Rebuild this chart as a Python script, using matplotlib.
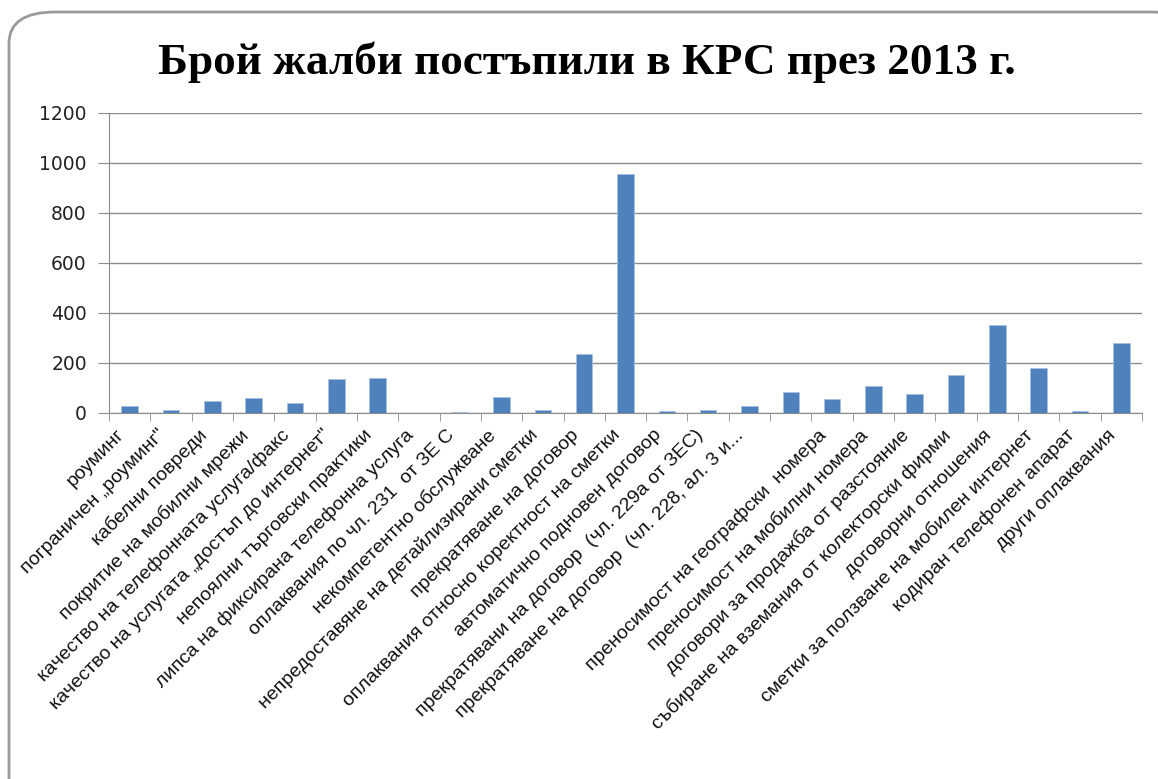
import matplotlib.pyplot as plt
import matplotlib.transforms as mtransforms
from matplotlib.patches import FancyBboxPatch
import numpy as np

categories = [
    'роуминг',
    'пограничен „роуминг"',
    'кабелни повреди',
    'покритие на мобилни мрежи',
    'качество на телефонната услуга/факс',
    'качество на услугата „достъп до интернет"',
    'непоялни търговски практики',
    'липса на фиксирана телефонна услуга',
    'оплаквания по чл. 231  от ЗЕ С',
    'некомпетентно обслужване',
    'непредоставяне на детайлизирани сметки',
    'прекратяване на договор',
    'оплаквания относно коректност на сметки',
    'автоматично подновен договор',
    'прекратявани на договор  (чл. 229а от ЗЕС)',
    'прекратяване на договор  (чл. 228, ал. 3 и...',
    '',
    'преносимост на географски  номера',
    'преносимост на мобилни номера',
    'договори за продажба от разстояние',
    'събиране на вземания от колекторски фирми',
    'договорни отношения',
    'сметки за ползване на мобилен интернет',
    'кодиран телефонен апарат',
    'други оплаквания',
]
complaints = [30, 11, 50, 61, 42, 135, 139, 0, 5, 65, 11, 238, 955,
              8, 13, 27, 85, 56, 109, 75, 152, 351, 181, 8, 279]
y_ticks = [0, 200, 400, 600, 800, 1000, 1200]

W, H = 1158, 779
fig = plt.figure(figsize=(W / 100, H / 100), dpi=100)

# rounded frame around the chart
frame = FancyBboxPatch((9 / W, -40 / H), (W + 30) / W, (H - 12 + 40) / H,
                       boxstyle='round,pad=0,rounding_size=0.04',
                       transform=fig.transFigure, facecolor='white',
                       edgecolor='#9a9a9a', linewidth=2, zorder=-5)
fig.patches.append(frame)

ax = fig.add_axes([109 / W, 1 - 413 / H, (1142 - 109) / W, (413 - 113) / H])
ax.set_zorder(2)
ax.set_facecolor('none')

x = np.arange(len(categories))
ax.bar(x, complaints, width=0.4, color='#4f81bd', edgecolor='#a9c1e0',
       linewidth=0.6, zorder=3)

ax.set_xlim(-0.5, len(categories) - 0.5)
ax.set_ylim(0, 1200)
ax.set_yticks(y_ticks)
ax.set_yticklabels([str(v) for v in y_ticks], fontsize=13.5, color='#222222',
                   family='DejaVu Sans')
ax.yaxis.grid(True, color='#8c8c8c', linewidth=1, zorder=0)
ax.tick_params(axis='y', length=8, color='#8c8c8c', pad=8)

ax.set_xticks(x)
ax.set_xticklabels(categories, rotation=45, ha='right', va='center',
                   rotation_mode='anchor', fontsize=14,
                   family='Liberation Sans', color='#111111')
ax.tick_params(axis='x', length=0, pad=14)
shift = mtransforms.ScaledTranslation(-8 / 100, 0, fig.dpi_scale_trans)
for lbl in ax.get_xticklabels():
    lbl.set_transform(lbl.get_transform() + shift)
ax.set_xticks(np.arange(len(categories) + 1) - 0.5, minor=True)
ax.tick_params(axis='x', which='minor', length=6, color='#8c8c8c')

for side in ['top', 'right']:
    ax.spines[side].set_visible(False)
for side in ['left', 'bottom']:
    ax.spines[side].set_color('#8c8c8c')

fig.text(587 / W, 1 - 62 / H, 'Брой жалби постъпили в КРС през 2013 г.',
         ha='center', va='center', fontsize=32.5, fontweight='bold',
         family='Liberation Serif', zorder=3)

fig.savefig('out.png', dpi=100)
